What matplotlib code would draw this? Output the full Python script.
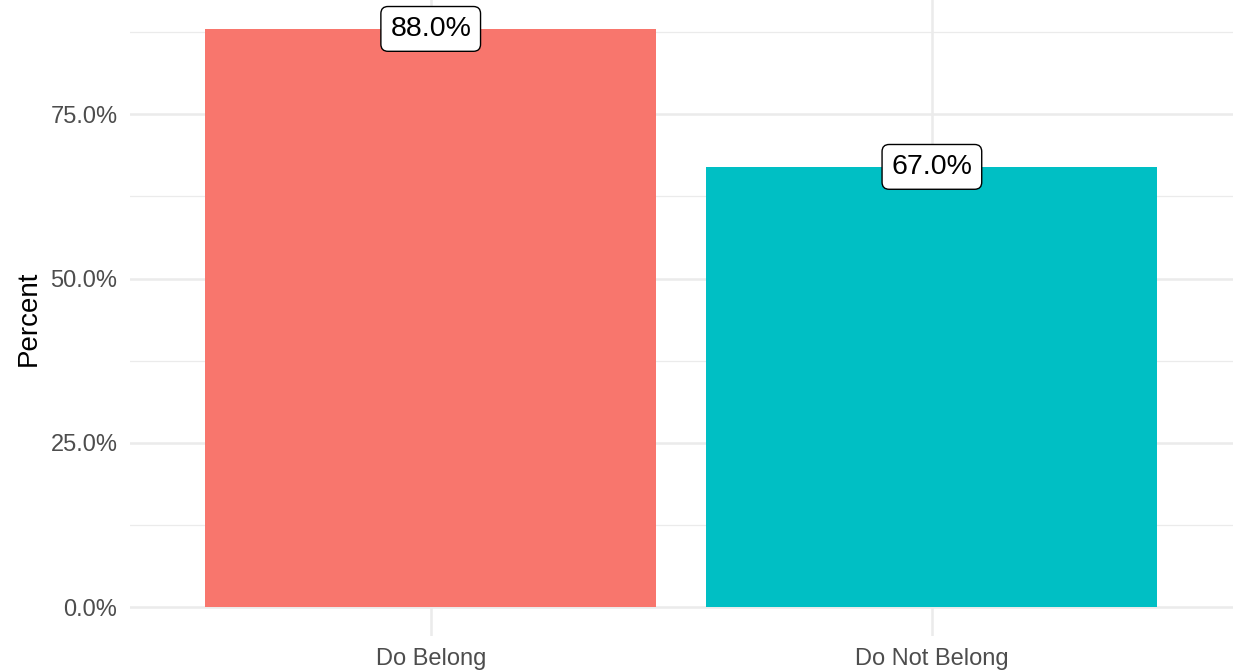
import matplotlib.pyplot as plt
from matplotlib.ticker import FuncFormatter, MultipleLocator

plt.rcParams['font.family'] = ['Liberation Sans', 'DejaVu Sans']

# 数据
groups = ["Do Belong", "Do Not Belong"]
percent = [88.0, 67.0]
colors = ["#F8766D", "#00BFC4"]

fig = plt.figure(figsize=(12.36, 6.72), dpi=100)
ax = fig.add_axes([130 / 1236, 36 / 672, 1102.6 / 1236, 636 / 672])

x = list(range(1, len(groups) + 1))
ax.bar(x, percent, width=0.9, color=colors, zorder=2)

for xi, v in zip(x, percent):
    ax.text(xi, v, f"{v:.1f}%", ha='center', va='center', fontsize=20.5, color='black',
            zorder=3,
            bbox=dict(boxstyle="round,pad=0.33,rounding_size=0.25", facecolor='white',
                      edgecolor='black', linewidth=1.0))

# 坐标轴范围 (ggplot 默认扩展)
ax.set_xlim(0.4, 2.6)
top = max(percent)
ax.set_ylim(-0.05 * top, top * 1.05)

ax.set_xticks(x)
ax.set_xticklabels(groups)
ax.yaxis.set_major_locator(MultipleLocator(25))
ax.yaxis.set_minor_locator(MultipleLocator(12.5))
ax.yaxis.set_major_formatter(FuncFormatter(lambda v, p: f"{v:.1f}%"))

ax.grid(which='major', axis='both', color='#EBEBEB', linewidth=1.8, zorder=0)
ax.grid(which='minor', axis='y', color='#EBEBEB', linewidth=0.9, zorder=0)
ax.set_axisbelow(True)

ax.tick_params(axis='both', which='both', length=0, labelsize=17, labelcolor='#4D4D4D')
ax.tick_params(axis='y', pad=9)
ax.tick_params(axis='x', pad=9)
for s in ax.spines.values():
    s.set_visible(False)

ax.set_ylabel("Percent", fontsize=20, color='black', labelpad=6)

fig.savefig("out.png", dpi=100)
